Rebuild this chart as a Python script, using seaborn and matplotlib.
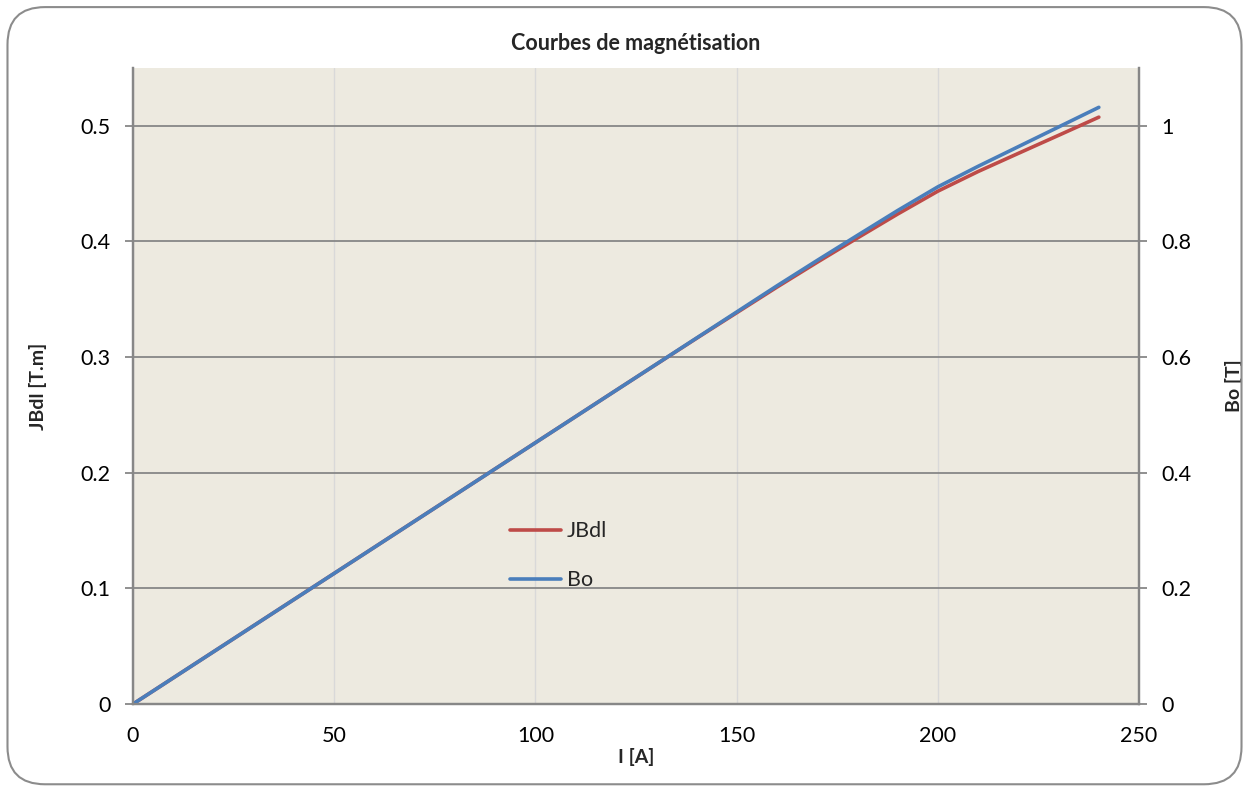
import numpy as np
import pandas as pd
import matplotlib
matplotlib.use("Agg")
import matplotlib.pyplot as plt
from matplotlib.patches import FancyBboxPatch
import seaborn as sns

# Data
current = [0, 20, 40, 60, 80, 100, 120, 140, 160, 170, 180, 190, 200, 210, 220, 230, 240]
jbdl = [0, 0.0452, 0.0904, 0.1356, 0.1808, 0.226, 0.2712, 0.3162, 0.3605, 0.3820,
        0.4030, 0.4237, 0.4435, 0.4605, 0.4762, 0.4918, 0.5075]
bo = [0, 0.0904, 0.1808, 0.2712, 0.3616, 0.452, 0.5424, 0.6328, 0.7232, 0.7672,
      0.8105, 0.8535, 0.8945, 0.9300, 0.9640, 0.9980, 1.032]

df = pd.DataFrame({"I": current, "JBdl": jbdl, "Bo": bo})

sns.set_style("white")
plt.rcParams["font.family"] = ["Lato", "DejaVu Sans"]

RED = "#BE4B48"
BLUE = "#4A7EBB"
GRID = "#878787"
SPINE = "#878787"

fig = plt.figure(figsize=(12.49, 7.89), dpi=100)
ax = fig.add_axes([0.1065, 0.1077, 0.8055, 0.8061])
ax2 = ax.twinx()

ax.set_facecolor("#EDEAE0")
ax2.patch.set_visible(False)

sns.lineplot(data=df, x="I", y="JBdl", ax=ax, color=RED, lw=2.6, label="JBdl", legend=False)
sns.lineplot(data=df, x="I", y="Bo", ax=ax2, color=BLUE, lw=2.6, label="Bo", legend=False)

ax.set_xlim(0, 250)
ax.set_ylim(0, 0.55)
ax2.set_ylim(0, 1.1)
ax.set_xticks(np.arange(0, 251, 50))
ax.set_yticks(np.arange(0, 0.51, 0.1))
ax.set_yticklabels(["0", "0.1", "0.2", "0.3", "0.4", "0.5"])
ax2.set_yticks(np.arange(0, 1.01, 0.2))
ax2.set_yticklabels(["0", "0.2", "0.4", "0.6", "0.8", "1"])
ax.set_xticklabels(["0", "50", "100", "150", "200", "250"])

ax.grid(axis="y", color=GRID, lw=1.3)
ax.grid(axis="x", color="#D9D9D9", lw=1.0)
ax.set_axisbelow(True)

for a in (ax, ax2):
    a.spines["top"].set_visible(False)
    for s in ("left", "right", "bottom"):
        a.spines[s].set_color(SPINE)
        a.spines[s].set_linewidth(1.6)
    a.tick_params(length=6, width=1.3, color=SPINE, labelsize=15.5, direction="out",
                  pad=10, labelcolor="black")

ax.set_xlabel("I [A]", fontsize=14, fontweight="bold", labelpad=1)
ax.set_ylabel("JBdl [T.m]", fontsize=14, fontweight="bold", labelpad=24)
ax2.set_ylabel("Bo [T]", fontsize=14, fontweight="bold", labelpad=24)
ax.set_title("Courbes de magnétisation", fontsize=15.5, fontweight="bold", pad=13)

h1, l1 = ax.get_legend_handles_labels()
h2, l2 = ax2.get_legend_handles_labels()
ax.legend(h1 + h2, l1 + l2, loc="center left", bbox_to_anchor=(0.355, 0.233),
          frameon=False, fontsize=15.5, handlelength=2.4, handletextpad=0.25,
          labelspacing=1.35)

border = FancyBboxPatch((0.006, 0.006), 0.988, 0.985, transform=fig.transFigure,
                        boxstyle="round,pad=0,rounding_size=0.03",
                        fc="none", ec="#8C8C8C", lw=1.5, mutation_aspect=1249 / 789)
fig.patches.append(border)

fig.savefig("out.png", dpi=100)
